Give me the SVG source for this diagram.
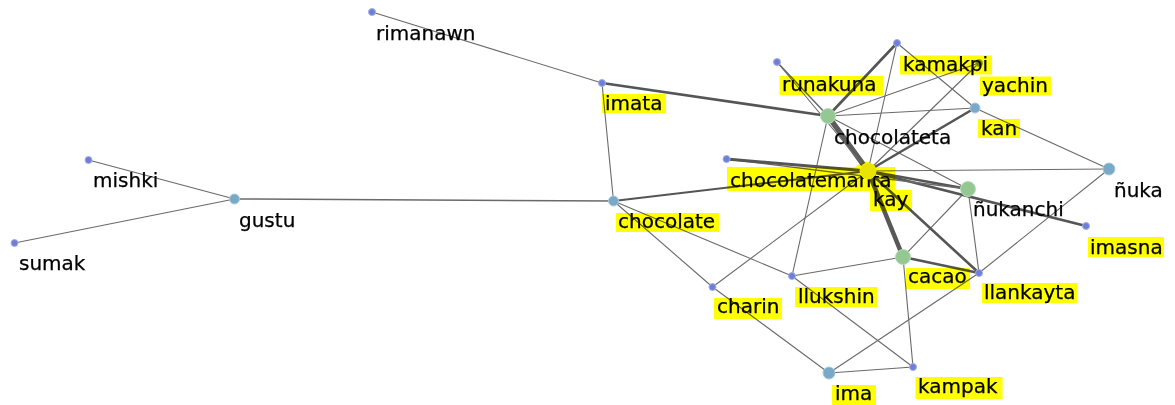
<svg xmlns="http://www.w3.org/2000/svg" width="1175" height="405" viewBox="0 0 1175 405">
<style>
.e{stroke:#6a6a6a;stroke-width:1.1;fill:none;stroke-linecap:round}
.e2{stroke:#555;stroke-width:2.6;fill:none;stroke-linecap:round}
.e3{stroke:#555;stroke-width:3;fill:none;stroke-linecap:round}
.e4{stroke:#585858;stroke-width:4.5;fill:none;stroke-linecap:round}
.e5{stroke:#5c5c5c;stroke-width:5.5;fill:none;stroke-linecap:round}
.s{fill:#6f7fd6;stroke:#a3ade9;stroke-width:1}
.t{fill:#78a9c6;stroke:#a9c9dc;stroke-width:1}
.g{fill:#93c893;stroke:#b8dcb8;stroke-width:1}
.y{fill:#e8e400;stroke:#f4f060;stroke-width:1}
.hl{fill:#ffff00;mix-blend-mode:multiply}
text{font-family:"DejaVu Sans","Liberation Sans",sans-serif;font-size:20px;fill:#000;stroke:#000;stroke-width:0.25}
</style>
<rect width="1175" height="405" fill="#ffffff"/>
<g id="edges">
<line class="e" x1="372" y1="12" x2="602" y2="83"/>
<line class="e" x1="88.5" y1="160" x2="234.5" y2="199"/>
<line class="e" x1="14.5" y1="243" x2="234.5" y2="199"/>
<line class="e" style="stroke-width:1.5" x1="234.5" y1="199" x2="613.5" y2="201"/>
<line class="e" x1="602" y1="83" x2="613.5" y2="201"/>
<line class="e2" x1="602" y1="83" x2="828" y2="116"/>
<line class="e2" style="stroke-width:2.2" x1="613.5" y1="201" x2="868" y2="171"/>
<line class="e" x1="613.5" y1="201" x2="792" y2="276"/>
<line class="e" x1="613.5" y1="201" x2="712.5" y2="287"/>
<line class="e" x1="712.5" y1="287" x2="829" y2="373"/>
<line class="e" x1="712.5" y1="287" x2="868" y2="171"/>
<line class="e" x1="792" y1="276" x2="828" y2="116"/>
<line class="e" style="stroke-width:1.2" x1="792" y1="276" x2="903" y2="257"/>
<line class="e" x1="792" y1="276" x2="913" y2="367"/>
<line class="e" style="stroke-width:1.2" x1="829" y1="373" x2="913" y2="367"/>
<line class="e" x1="829" y1="373" x2="979" y2="273"/>
<line class="e" x1="903" y1="257" x2="913" y2="367"/>
<line class="e4" x1="903" y1="257" x2="868" y2="171"/>
<line class="e2" x1="903" y1="257" x2="979" y2="273"/>
<line class="e" x1="903" y1="257" x2="968" y2="189"/>
<line class="e2" x1="868" y1="171" x2="979" y2="273"/>
<line class="e" x1="968" y1="189" x2="979" y2="273"/>
<line class="e" x1="979" y1="273" x2="1109" y2="169"/>
<line class="e2" x1="868" y1="171" x2="1086" y2="226"/>
<line class="e2" x1="868" y1="171" x2="968" y2="189"/>
<line class="e" style="stroke-width:1.4" x1="726.5" y1="159" x2="968" y2="189"/>
<line class="e" x1="868" y1="171" x2="1109" y2="169"/>
<line class="e5" x1="828" y1="116" x2="868" y2="171"/>
<line class="e2" x1="828" y1="116" x2="897" y2="43"/>
<line class="e" style="stroke-width:1.5" x1="777" y1="62" x2="828" y2="116"/>
<line class="e" x1="777" y1="62" x2="868" y2="171"/>
<line class="e" x1="828" y1="116" x2="979" y2="63"/>
<line class="e" x1="828" y1="116" x2="975" y2="108"/>
<line class="e" x1="828" y1="116" x2="968" y2="189"/>
<line class="e2" x1="868" y1="171" x2="975" y2="108"/>
<line class="e" x1="897" y1="43" x2="868" y2="171"/>
<line class="e" x1="897" y1="43" x2="975" y2="108"/>
<line class="e" x1="979" y1="63" x2="868" y2="171"/>
<line class="e" x1="975" y1="108" x2="1109" y2="169"/>
<line class="e3" x1="726.5" y1="159" x2="868" y2="171"/>
</g>
<g id="node-rimanawn"><circle class="s" cx="372" cy="12" r="3.5"/><text x="376" y="40">rimanawn</text></g>
<g id="node-mishki"><circle class="s" cx="88.5" cy="160" r="3.5"/><text x="93" y="187">mishki</text></g>
<g id="node-gustu"><circle class="t" cx="234.5" cy="199" r="5"/><text x="239" y="227">gustu</text></g>
<g id="node-sumak"><circle class="s" cx="14.5" cy="243" r="3.5"/><text x="19" y="270">sumak</text></g>
<g id="node-imata"><circle class="s" cx="602" cy="83" r="3.5"/><rect class="hl" x="602" y="94" width="64" height="19"/><text x="605" y="110">imata</text></g>
<g id="node-chocolate"><circle class="t" cx="613.5" cy="201" r="5"/><rect class="hl" x="616" y="213" width="103" height="19"/><text x="618" y="228">chocolate</text></g>
<g id="node-chocolatemanta"><circle class="s" cx="726.5" cy="159" r="3.5"/><rect class="hl" x="727" y="167" width="168" height="24"/><text x="730" y="187">chocolatemanta</text></g>
<g id="node-charin"><circle class="s" cx="712.5" cy="287" r="3.5"/><rect class="hl" x="714" y="298" width="68" height="21"/><text x="717" y="313">charin</text></g>
<g id="node-llukshin"><circle class="s" cx="792" cy="276" r="3.5"/><rect class="hl" x="795" y="287" width="82" height="20"/><text x="798" y="303">llukshin</text></g>
<g id="node-ima"><circle class="t" cx="829" cy="373" r="6"/><rect class="hl" x="832" y="385" width="44" height="20"/><text x="835" y="400">ima</text></g>
<g id="node-kampak"><circle class="s" cx="913" cy="367" r="3.5"/><rect class="hl" x="915.5" y="377" width="87" height="22"/><text x="918" y="393">kampak</text></g>
<g id="node-cacao"><circle class="g" cx="903" cy="257" r="7.5"/><rect class="hl" x="906" y="268" width="64" height="21"/><text x="908" y="283">cacao</text></g>
<g id="node-llankayta"><circle class="s" cx="979" cy="273" r="3.5"/><rect class="hl" x="982" y="283" width="95" height="20"/><text x="984" y="299">llankayta</text></g>
<g id="node-imasna"><circle class="s" cx="1086" cy="226" r="3.5"/><rect class="hl" x="1088" y="237" width="76" height="20"/><text x="1090" y="254">imasna</text></g>
<g id="node-nuka"><circle class="t" cx="1109" cy="169" r="6"/><text x="1114" y="197">ñuka</text></g>
<g id="node-nukanchi"><circle class="g" cx="968" cy="189" r="7.5"/><text x="973" y="216">ñukanchi</text></g>
<g id="node-chocolateta"><circle class="g" cx="828" cy="116" r="7.5"/><text x="834" y="144">chocolateta</text></g>
<g id="node-runakuna"><circle class="s" cx="777" cy="62" r="3.5"/><rect class="hl" x="779.5" y="76" width="104" height="19"/><text x="782" y="91">runakuna</text></g>
<g id="node-kan"><circle class="t" cx="975" cy="108" r="5"/><rect class="hl" x="978" y="119" width="42" height="19"/><text x="981" y="135">kan</text></g>
<g id="node-yachin"><circle class="s" cx="979" cy="63" r="3.5"/><rect class="hl" x="980" y="76.5" width="71" height="19"/><text x="982" y="92">yachin</text></g>
<g id="node-kamakpi"><circle class="s" cx="897" cy="43" r="3.5"/><rect class="hl" x="900" y="55.5" width="92" height="19"/><text x="903" y="71">kamakpi</text></g>
<g id="node-kay"><circle class="y" cx="868" cy="171" r="8"/><ellipse class="hl" cx="866" cy="172" rx="12" ry="10"/><rect class="hl" x="870" y="190" width="42" height="21"/><text x="873" y="206">kay</text></g>
</svg>
